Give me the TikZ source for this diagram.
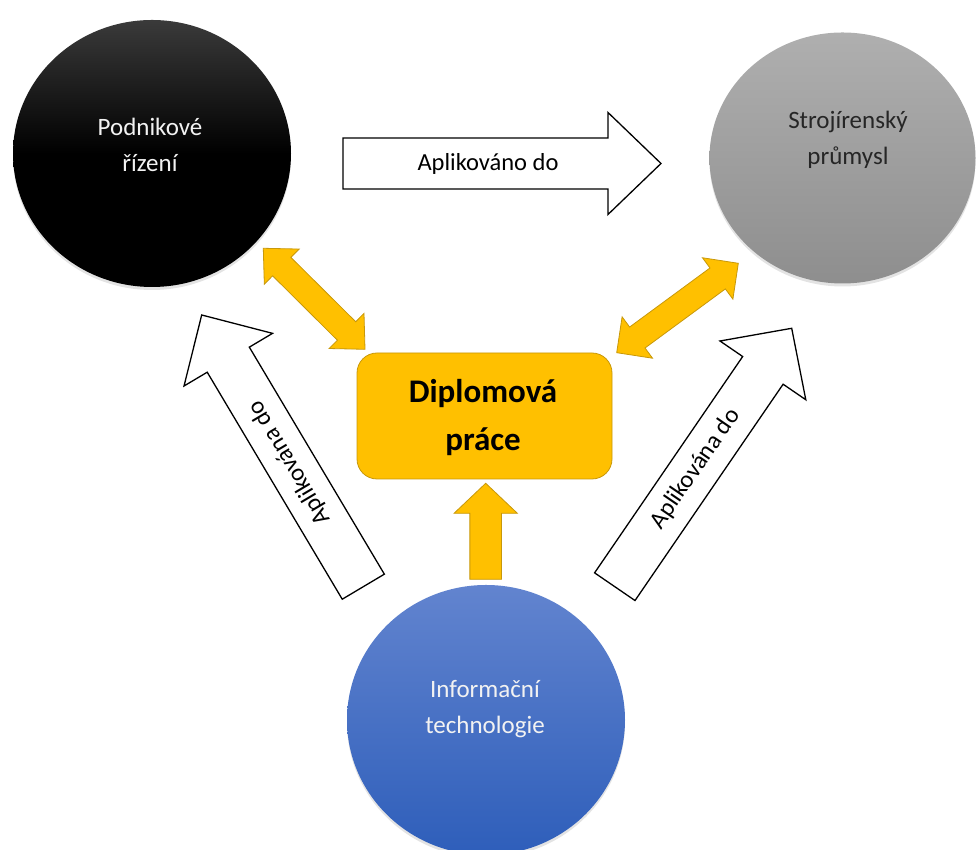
\documentclass[tikz,border=0pt]{standalone}
\usepackage{fontspec}
\setmainfont{Carlito}
\usetikzlibrary{shapes.geometric,shadows,calc}

\definecolor{gold}{RGB}{255,192,0}
\definecolor{golddark}{RGB}{200,152,10}
\definecolor{blacktop}{RGB}{58,58,58}
\definecolor{greytop}{RGB}{175,175,175}
\definecolor{greybot}{RGB}{142,142,142}
\definecolor{bluetop}{RGB}{98,132,207}
\definecolor{bluebot}{RGB}{46,94,186}
\definecolor{lighttext}{RGB}{242,242,242}
\definecolor{darktext}{RGB}{38,38,38}

\tikzset{
  disc/.style={ellipse, inner sep=0pt, draw=none,
    drop shadow={opacity=0.22, shadow xshift=0pt, shadow yshift=-3pt}},
  disclabel/.style={align=center, inner sep=0pt,
    font=\fontsize{25}{36}\selectfont},
  hollowarrow/.style={draw=black, line width=1.3pt, fill=white, line join=miter},
  goldarrow/.style={draw=golddark, line width=0.8pt, fill=gold, line join=miter},
  arrowtext/.style={inner sep=0pt, sloped, allow upside down, pos=0.456,
    font=\fontsize{24.5}{29}\selectfont},
}

% Block arrow from tail #1 to tip #2: body half width #3, head half width #4,
% head length #5, style #6
\newcommand{\blockarrow}[6]{%
  \draw[#6]
    ($(#1)!#3!90:(#2)$)
    -- ($($(#2)!#5!(#1)$)!#3!90:(#2)$)
    -- ($($(#2)!#5!(#1)$)!#4!90:(#2)$)
    -- (#2)
    -- ($($(#2)!#5!(#1)$)!#4!-90:(#2)$)
    -- ($($(#2)!#5!(#1)$)!#3!-90:(#2)$)
    -- ($(#1)!#3!-90:(#2)$)
    -- cycle;}

% Two-headed block arrow between tips #1 and #2: body half width #3,
% head half width #4, head length #5, style #6
\newcommand{\doublearrow}[6]{%
  \draw[#6]
    (#1)
    -- ($($(#1)!#5!(#2)$)!#4!90:(#2)$)
    -- ($($(#1)!#5!(#2)$)!#3!90:(#2)$)
    -- ($($(#2)!#5!(#1)$)!#3!90:(#2)$)
    -- ($($(#2)!#5!(#1)$)!#4!90:(#2)$)
    -- (#2)
    -- ($($(#2)!#5!(#1)$)!#4!-90:(#2)$)
    -- ($($(#2)!#5!(#1)$)!#3!-90:(#2)$)
    -- ($($(#1)!#5!(#2)$)!#3!-90:(#2)$)
    -- ($($(#1)!#5!(#2)$)!#4!-90:(#2)$)
    -- cycle;}

\begin{document}
\begin{tikzpicture}[x=1pt,y=1pt]
\useasboundingbox (0,0) rectangle (978,850);

% topic discs
\node[disc, minimum width=278pt, minimum height=267pt,
  top color=blacktop, bottom color=black, middle color=black] (pod) at (152,696.5) {};
\node[disc, minimum width=266pt, minimum height=251pt,
  top color=greytop, bottom color=greybot] (stroj) at (842.5,692) {};
\node[disc, minimum width=278pt, minimum height=270pt,
  top color=bluetop, bottom color=bluebot] (info) at (486,130) {};

\node[disclabel, text=lighttext] (podtext) at (150,705) {Podnikové\\řízení};
\node[disclabel, text=darktext] (strojtext) at (848,710) {Strojírenský\\průmysl};
\node[disclabel, text=lighttext] (infotext) at (485,141) {Informační\\technologie};

% thesis box
\node[draw=golddark, fill=gold, line width=0.8pt, rounded corners=20pt,
  minimum width=255pt, minimum height=126pt] (thesis) at (484.5,434) {};
\node[align=center, inner sep=0pt, font=\fontsize{33}{48}\selectfont\bfseries]
  (thesistext) at (483,432.5) {Diplomová\\práce};

% end points of the block arrows
\coordinate (topTail) at (343,686.5);
\coordinate (topTip) at (661,686.5);
\coordinate (leftTail) at (363.3,263.3);
\coordinate (leftTip) at (201.7,535);
\coordinate (rightTail) at (614.8,263.3);
\coordinate (rightTip) at (791.7,521.7);
\coordinate (upTail) at (485.7,270.7);
\coordinate (upTip) at (485.7,366.7);
\coordinate (lA) at (365,500.7);
\coordinate (lB) at (263.3,601.7);
\coordinate (rA) at (616.7,497.3);
\coordinate (rB) at (738.3,586.7);

% hollow "applied to" arrows
\blockarrow{topTail}{topTip}{25.5pt}{51pt}{53pt}{hollowarrow}
\path (topTail) -- (topTip) node[arrowtext] (toptext) {Aplikováno do};

\blockarrow{leftTail}{leftTip}{24.5pt}{51.5pt}{52pt}{hollowarrow}
\path (leftTail) -- (leftTip) node[arrowtext] (lefttext) {Aplikována do};

\blockarrow{rightTail}{rightTip}{24.5pt}{52pt}{51pt}{hollowarrow}
\path (rightTail) -- (rightTip) node[arrowtext] (righttext) {Aplikována do};

% gold arrows around the thesis box
\blockarrow{upTail}{upTip}{15.85pt}{31.65pt}{30pt}{goldarrow}
\doublearrow{lA}{lB}{13pt}{24.75pt}{26pt}{goldarrow}
\doublearrow{rA}{rB}{13pt}{25.7pt}{25.6pt}{goldarrow}

\end{tikzpicture}
\end{document}
